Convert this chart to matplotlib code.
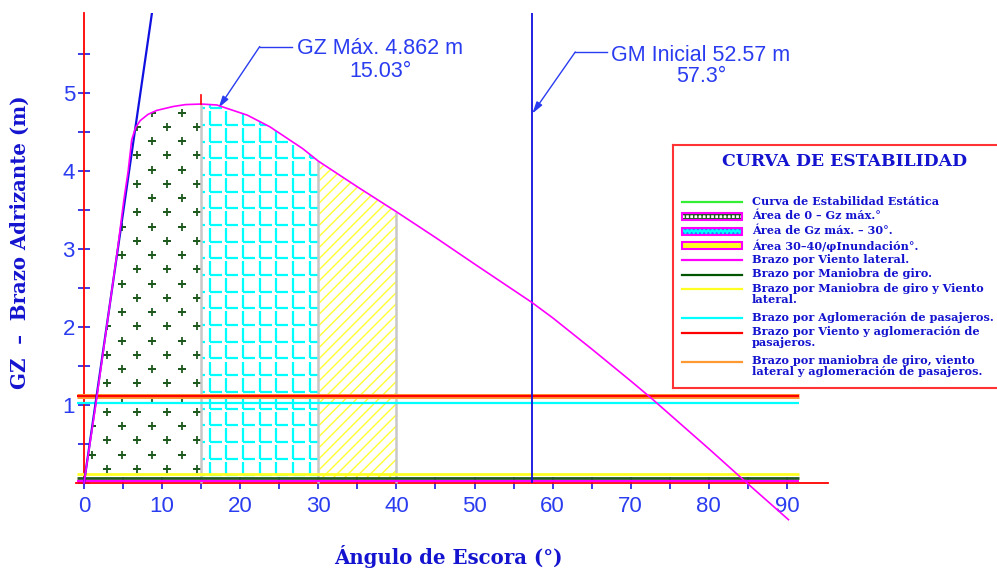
"""
Curva de estabilidad estatica (GZ) con brazos escorantes y areas bajo la curva.
"""

import numpy as np
import matplotlib.pyplot as plt
from matplotlib.collections import LineCollection
from matplotlib.patches import Rectangle
from matplotlib.lines import Line2D

# --- data -------------------------------------------------------------------
# GZ curve: heel angle (deg) vs righting arm (m)
angles = [0, 1.5, 2.9, 4.3, 5.1, 5.65, 6.1, 6.6, 7.2, 8.2, 9.3, 11.4, 13.0,
          15.03, 17.0, 20.9, 23.8, 28.0, 30.0, 35.0, 40.0, 45.0, 50.0, 57.3,
          60.0, 65.0, 70.0, 72.5, 75.0, 80.0, 85.0, 90.2]
gz = [0, 1.0, 2.0, 3.0, 3.63, 4.0, 4.4, 4.56, 4.65, 4.73, 4.78, 4.83, 4.855,
      4.862, 4.85, 4.72, 4.57, 4.29, 4.13, 3.8, 3.48, 3.15, 2.81, 2.32,
      2.12, 1.72, 1.31, 1.1, 0.88, 0.44, -0.01, -0.47]

# initial GM tangent line
gm_line_x = [0, 8.7]
gm_line_y = [0, 6.03]

gz_max = 4.862
gz_max_angle = 15.03
gm_initial = 52.57
gm_angle = 57.3

# heeling arms (m)
arm_wind = 0.03
arm_turn = 0.06
arm_turn_wind = 0.11
arm_pax = 1.03
arm_wind_pax = 1.115
arm_all = 1.115

# area limits (deg)
area_limits = [0, gz_max_angle, 30, 40]

legend_labels = [
    "Curva de Estabilidad Estática",
    "Área de 0 – Gz máx.°",
    "Área de Gz máx. – 30°.",
    "Área 30–40/φInundación°.",
    "Brazo por Viento lateral.",
    "Brazo por Maniobra de giro.",
    "Brazo por Maniobra de giro y Viento\nlateral.",
    "Brazo por Aglomeración de pasajeros.",
    "Brazo por Viento y aglomeración de\npasajeros.",
    "Brazo por maniobra de giro, viento\nlateral y aglomeración de pasajeros.",
]

# --- styles -------------------------------------------------------------------
blue = "#2a3cf0"
dark_blue = "#1414d0"
magenta = "#ff00ff"
dgreen = "#1e5a1e"
cyan = "#00ffff"
yellow = "#ffff22"
gray = "#c8c8c8"

plt.rcParams["hatch.linewidth"] = 1.0

W, H = 997, 571
fig = plt.figure(figsize=(W / 100, H / 100), dpi=100)


def px_rect(x0, y0, x1, y1):
    return [x0 / W, 1 - y1 / H, (x1 - x0) / W, (y1 - y0) / H]


ax = fig.add_axes(px_rect(76.2, 13, 828.3, 522))
ax.set_xlim(-1, 95.3)
ax.set_ylim(-0.5, 6.03)

a = np.array(angles)
g = np.array(gz)
g_at = lambda x: np.interp(x, a, g)

# area 0 - GZ max : plus pattern
m1 = (a >= area_limits[0]) & (a <= area_limits[1])
area1 = ax.fill_between(a, 0, g, where=m1, facecolor="white", edgecolor="none", zorder=1)
clip1 = area1.get_paths()[0]
for x0, y0 in [(2.94, 0.18), (1.04, 0.36)]:
    xx, yy = np.meshgrid(np.arange(x0, 15, 3.84), np.arange(y0, 5, 0.366))
    sc = ax.scatter(xx.ravel(), yy.ravel(), marker="+", s=30, color=dgreen,
                    linewidths=1.3, zorder=2)
    sc.set_clip_path(clip1, ax.transData)

# area GZ max - 30 : cyan L pattern
m2 = (a >= area_limits[1]) & (a <= area_limits[2])
area2 = ax.fill_between(a, 0, g, where=m2, facecolor="white", edgecolor="none", zorder=1)
clip2 = area2.get_paths()[0]
segs = []
for x in np.arange(13.97, 30, 2.13):
    for y in np.arange(0.1, 5, 0.214):
        segs.append([(x, y), (x, y + 0.175)])
        segs.append([(x, y), (x + 1.55, y)])
lc = LineCollection(segs, colors=cyan, linewidths=1.6, zorder=2)
ax.add_collection(lc)
lc.set_clip_path(clip2, ax.transData)

# area 30 - 40 : yellow diagonal hatch
m3 = (a >= area_limits[2]) & (a <= area_limits[3])
ax.fill_between(a, 0, g, where=m3, facecolor="white", edgecolor="#ffff33",
                hatch="///", linewidth=0, zorder=1)

# area boundaries
bounds = area_limits[1:]
ax.vlines(bounds, 0, g_at(bounds), colors=gray, linewidth=1.8, zorder=3)

# heeling arm lines
xa, xb = -0.9, 91.5
ax.hlines(arm_all, xa, xb, colors="#ff9933", linewidth=3.6, zorder=4)
ax.hlines(arm_wind_pax, xa, xb, colors="red", linewidth=1.6, zorder=4)
ax.hlines(arm_pax, xa, xb, colors=cyan, linewidth=1.6, zorder=4)
ax.hlines(arm_turn_wind, xa, xb, colors=yellow, linewidth=2.0, zorder=4)
ax.hlines(arm_turn, xa, xb, colors=dgreen, linewidth=2.0, zorder=4)
ax.hlines(arm_wind, xa, xb, colors=magenta, linewidth=1.6, zorder=4)

# GM vertical at 1 rad and tangent line
ax.vlines(gm_angle, 0, 6.03, colors="#1010e0", linewidth=1.3, zorder=5)
ax.plot(gm_line_x, gm_line_y, color="#1010e0", linewidth=1.6, zorder=5)

# GZ curve
ax.plot(a, g, color=magenta, linewidth=1.2, zorder=6)
ax.plot([gz_max_angle] * 2, [gz_max, gz_max + 0.12], color="red", linewidth=1.2, zorder=6)

# annotations
arrow = dict(arrowstyle="-|>,head_length=0.7,head_width=0.2", color=blue,
             linewidth=1.0, shrinkA=0, shrinkB=0)
ax.plot([22.5, 26.6], [5.6, 5.6], color=blue, linewidth=1.0)
ax.annotate("", xy=(gz_max_angle + 2.2, gz_max - 0.05), xytext=(22.5, 5.6), arrowprops=arrow)
ax.text(37.9, 5.425, f"GZ Máx. {gz_max:.3f} m\n{gz_max_angle:.2f}°", ha="center",
        va="center", fontsize=15.5, color=blue, family="Liberation Sans", linespacing=1.15)

ax.plot([62.9, 67.0], [5.53, 5.53], color=blue, linewidth=1.0)
ax.annotate("", xy=(gm_angle + 0.1, 4.74), xytext=(62.9, 5.53), arrowprops=arrow)
ax.text(79.0, 5.346, f"GM Inicial {gm_initial:.2f} m\n{gm_angle:.1f}°", ha="center",
        va="center", fontsize=15.5, color=blue, family="Liberation Sans", linespacing=1.0)

# axes styling
for s in ["top", "right"]:
    ax.spines[s].set_visible(False)
ax.spines["left"].set_position(("data", 0))
ax.spines["bottom"].set_position(("data", 0))
ax.spines["left"].set_bounds(0, 6.03)
for s in ["left", "bottom"]:
    ax.spines[s].set_color("red")
    ax.spines[s].set_linewidth(1.3)

ax.set_xticks(np.arange(0, 91, 10))
ax.set_xticks(np.arange(0, 91, 5), minor=True)
ax.set_yticks([1, 2, 3, 4, 5])
ax.set_yticks(np.arange(0, 5.6, 0.5), minor=True)
ax.tick_params(which="both", direction="inout", length=9, width=1.2, color="#1a1ae0")
ax.tick_params(labelsize=16, labelcolor=blue)
ax.tick_params(axis="x", pad=5)
ax.tick_params(axis="y", pad=2)
for lab in ax.get_xticklabels() + ax.get_yticklabels():
    lab.set_family("Liberation Sans")

fig.text(20 / W, 1 - 242 / H, "GZ  –  Brazo Adrizante (m)", rotation=90, ha="center",
         va="center", fontsize=14.2, fontweight="bold", family="DejaVu Serif", color=dark_blue)
fig.text(448 / W, 1 - 556 / H, "Ángulo de Escora (°)", ha="center", va="center",
         fontsize=14.2, fontweight="bold", family="DejaVu Serif", color=dark_blue)

# --- legend box (pixel coordinates of the figure) ---------------------------
lg = fig.add_axes(px_rect(673, 145, 1010, 388))
lg.set_xlim(673, 1010)
lg.set_ylim(388, 145)
lg.set_xticks([])
lg.set_yticks([])
for s in lg.spines.values():
    s.set_color("#ff3333")
    s.set_linewidth(1.5)

lg.text(845, 161, "CURVA DE ESTABILIDAD", ha="center", va="center", fontsize=12.4,
        fontweight="bold", family="DejaVu Serif", color=dark_blue)

samples = [
    ("line", "#33ee33"),
    ("patch", "white", "++++", dgreen),
    ("patch", cyan, "....", "#3366ff"),
    ("patch", yellow, "..", "white"),
    ("line", magenta),
    ("line", "#005500"),
    ("line", yellow),
    ("line", cyan),
    ("line", "red"),
    ("line", "#ff9933"),
]

y = 202
for label, smp in zip(legend_labels, samples):
    if smp[0] == "line":
        lg.add_line(Line2D([682, 742], [y, y], color=smp[1], linewidth=1.6))
    else:
        lg.add_patch(Rectangle((682, y - 3.5), 60, 7, facecolor=smp[1], hatch=smp[2],
                               edgecolor=smp[3], linewidth=0))
        lg.add_patch(Rectangle((682, y - 3.5), 60, 7, facecolor="none",
                               edgecolor=magenta, linewidth=1.5))
    lg.text(752, y - 6.5, label, ha="left", va="top", fontsize=8.1, fontweight="bold",
            family="DejaVu Serif", color=dark_blue, linespacing=1.05)
    y += 14.5 * (label.count("\n") + 1)

fig.savefig("out.png", dpi=100)
